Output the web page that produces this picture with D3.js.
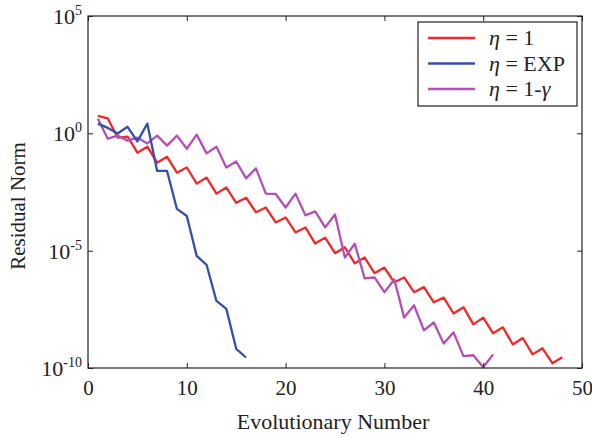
<!DOCTYPE html>
<html>
<head>
<meta charset="utf-8">
<script src="https://cdn.jsdelivr.net/npm/d3@7"></script>
<style>
  html, body { margin: 0; padding: 0; background: #fff; }
  svg { display: block; }
  text { font-family: "Liberation Serif", "Times New Roman", serif; fill: #222; }
</style>
</head>
<body>
<svg id="chart" width="592" height="438"></svg>
<script>
// ---- data ----
const iterRed = d3.range(1, 49);
const residualEta1 = [
  5.6, 4.3, 0.66, 0.72, 0.15, 0.27, 0.056, 0.10, 0.021, 0.035,
  7.2e-3, 1.3e-2, 2.7e-3, 4.9e-3, 1.1e-3, 1.8e-3, 4.3e-4, 6.9e-4, 1.6e-4, 2.6e-4,
  6.0e-5, 9.8e-5, 2.0e-5, 3.6e-5, 7.8e-6, 1.4e-5, 2.9e-6, 5.1e-6, 1.1e-6, 1.9e-6,
  4.5e-7, 7.2e-7, 1.7e-7, 2.8e-7, 6.3e-8, 1.0e-7, 2.1e-8, 3.9e-8, 7.2e-9, 1.4e-8,
  3.0e-9, 5.4e-9, 1.0e-9, 1.9e-9, 3.8e-10, 6.9e-10, 1.6e-10, 2.9e-10
];
const iterBlue = d3.range(1, 17);
const residualEtaExp = [
  2.6, 1.7, 0.98, 1.9, 0.45, 2.6, 0.025, 0.025, 6.0e-4, 3.0e-4,
  6.0e-6, 2.5e-6, 7.2e-8, 3.3e-8, 6.6e-10, 2.8e-10
];
const iterMag = d3.range(1, 42);
const residualEta1g = [
  4.2, 0.59, 0.80, 0.49, 0.66, 0.37, 0.80, 0.30, 0.80, 0.22,
  0.88, 0.14, 0.27, 0.035, 0.063, 0.012, 0.032, 2.7e-3, 2.6e-3, 6.9e-4,
  2.7e-3, 3.2e-4, 4.7e-4, 9.8e-5, 3.5e-4, 5.1e-6, 2.0e-5, 6.6e-7, 7.2e-7, 1.7e-7,
  5.9e-7, 1.4e-8, 4.7e-8, 4.0e-9, 8.7e-9, 1.1e-9, 3.3e-9, 3.2e-10, 3.5e-10, 1.07e-10,
  3.8e-10
];
const xTicks = [0, 10, 20, 30, 40, 50];
const yTickExps = [5, 0, -5, -10];
const seriesNames = ["1", "EXP", "1-\u03B3"];
const seriesColors = ["#f02a2a", "#3450a8", "#b450b4"];

// ---- layout ----
const svg = d3.select("#chart");
const L = 88, R = 582, T = 16, B = 368;
const x = d3.scaleLinear().domain([0, 50]).range([L, R]);
const y = d3.scaleLog().domain([1e-10, 1e5]).range([B, T]);

// series
const series = [
  { xs: iterRed, ys: residualEta1, color: seriesColors[0] },
  { xs: iterBlue, ys: residualEtaExp, color: seriesColors[1] },
  { xs: iterMag, ys: residualEta1g, color: seriesColors[2] }
];
const line = d3.line().x(d => x(d[0])).y(d => y(d[1]));
[0, 2, 1].forEach(i => {
  const s = series[i];
  svg.append("path")
    .datum(s.xs.map((v, k) => [v, s.ys[k]]))
    .attr("d", line)
    .attr("fill", "none")
    .attr("stroke", s.color)
    .attr("stroke-width", 2.3)
    .attr("stroke-linejoin", "round");
});

// frame
svg.append("rect").attr("x", L).attr("y", T).attr("width", R - L).attr("height", B - T)
  .attr("fill", "none").attr("stroke", "#222").attr("stroke-width", 1.2);

// axes with inward ticks
const tk = 5;
const gx = svg.append("g").attr("transform", `translate(0,${B})`)
  .call(d3.axisBottom(x).tickValues(xTicks).tickSize(-tk).tickPadding(12).tickFormat(d3.format("d")));
gx.select(".domain").remove();
gx.selectAll("text").attr("font-size", 21).attr("font-family", "Liberation Serif").attr("fill", "#222");
gx.selectAll("line").attr("stroke", "#222");
const gxt = svg.append("g").attr("transform", `translate(0,${T})`)
  .call(d3.axisTop(x).tickValues(xTicks).tickSize(-tk).tickFormat(""));
gxt.select(".domain").remove();
gxt.selectAll("line").attr("stroke", "#222");

const yTickVals = yTickExps.map(e => Math.pow(10, e));
const gy = svg.append("g").attr("transform", `translate(${L},0)`)
  .call(d3.axisLeft(y).tickValues(yTickVals).tickSize(-tk).tickFormat(""));
gy.select(".domain").remove();
gy.selectAll("line").attr("stroke", "#222");
const gyr = svg.append("g").attr("transform", `translate(${R},0)`)
  .call(d3.axisRight(y).tickValues(yTickVals).tickSize(-tk).tickFormat(""));
gyr.select(".domain").remove();
gyr.selectAll("line").attr("stroke", "#222");

// y tick labels with superscripts
yTickExps.forEach(e => {
  const t = svg.append("text")
    .attr("x", L - 6).attr("y", y(Math.pow(10, e)) + 8)
    .attr("text-anchor", "end").attr("font-size", 22);
  t.append("tspan").text("10");
  t.append("tspan").attr("dy", -9).attr("font-size", 14).text(e < 0 ? "-" + (-e) : String(e));
});

// axis titles
svg.append("text").attr("x", (L + R) / 2 - 2).attr("y", 429)
  .attr("text-anchor", "middle").attr("font-size", 22).text("Evolutionary Number");
svg.append("text").attr("transform", `translate(25,${(T + B) / 2 + 14}) rotate(-90)`)
  .attr("text-anchor", "middle").attr("font-size", 21).text("Residual Norm");

// legend
const lg = svg.append("g");
lg.append("rect").attr("x", 418).attr("y", 22).attr("width", 159).attr("height", 84)
  .attr("fill", "#fff").attr("stroke", "#222").attr("stroke-width", 1.2);
seriesNames.forEach((n, i) => {
  const yy = 38 + i * 25.5;
  lg.append("line").attr("x1", 428).attr("x2", 475).attr("y1", yy).attr("y2", yy)
    .attr("stroke", seriesColors[i]).attr("stroke-width", 2.3);
  const t = lg.append("text").attr("x", 489).attr("y", yy + 7).attr("font-size", 22);
  t.append("tspan").attr("font-style", "italic").text("\u03B7");
  t.append("tspan").text(" = ");
  if (n === "1-\u03B3") {
    t.append("tspan").text("1-");
    t.append("tspan").attr("font-style", "italic").text("\u03B3");
  } else {
    t.append("tspan").text(n);
  }
});
</script>
</body>
</html>
